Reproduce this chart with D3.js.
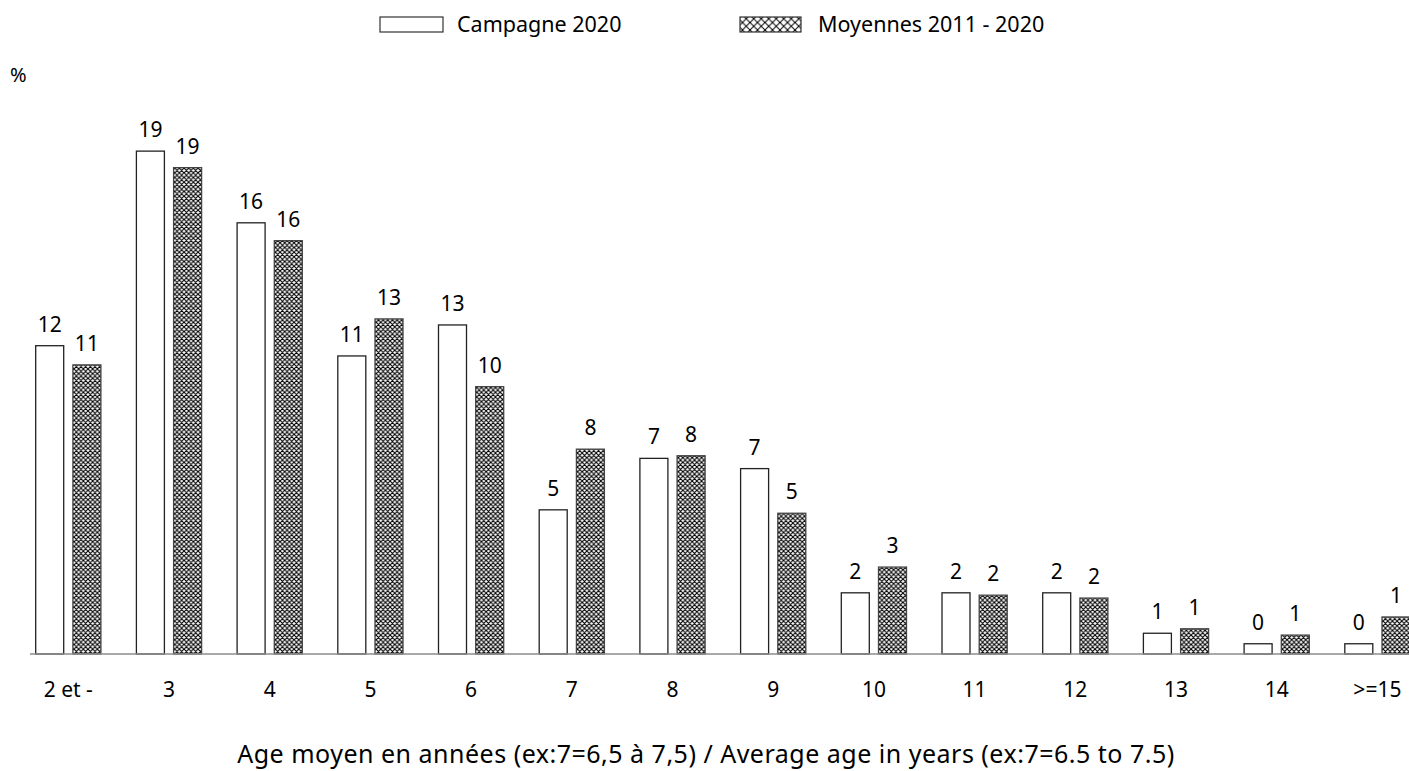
<!DOCTYPE html>
<html>
<head>
<meta charset="utf-8">
<script src="https://cdn.jsdelivr.net/npm/d3@7"></script>
<style>
  html, body { margin: 0; padding: 0; background: #fff; }
  svg { display: block; font-family: "Noto Sans", "Open Sans", sans-serif; }
</style>
</head>
<body>
<svg id="chart" width="1409" height="771"></svg>
<script>
// ---- data ----
const categories = ["2 et -", "3", "4", "5", "6", "7", "8", "9", "10", "11", "12", "13", "14", ">=15"];
const series = ["Campagne 2020", "Moyennes 2011 - 2020"];
const campagne2020 = [11.74, 19.15, 16.42, 11.35, 12.53, 5.49, 7.45, 7.06, 2.33, 2.33, 2.33, 0.79, 0.39, 0.39];
const moyennes = [11.01, 18.52, 15.74, 12.76, 10.18, 7.80, 7.55, 5.36, 3.31, 2.24, 2.13, 0.96, 0.72, 1.41];
const yUnit = "%";
const xTitle = "Age moyen en années (ex:7=6,5 à 7,5) / Average age in years (ex:7=6.5 to 7.5)";

const svg = d3.select("#chart");
const W = 1409, H = 771;
const baseY = 654;

// hatch patterns
const defs = svg.append("defs");
function hatch(id, s, sw) {
  const p = defs.append("pattern").attr("id", id)
    .attr("patternUnits", "userSpaceOnUse").attr("width", s).attr("height", s);
  p.append("rect").attr("width", s).attr("height", s).attr("fill", "#fff");
  p.append("path")
    .attr("d", `M0,0L${s},${s}M${s},0L0,${s}M${-s/2},${s/2}L${s/2},${s*1.5}M${s/2},${-s/2}L${s*1.5},${s/2}M${s/2},${s*1.5}L${s*1.5},${s/2}M${-s/2},${s/2}L${s/2},${-s/2}`)
    .attr("stroke", "#000").attr("stroke-width", sw);
}
hatch("xh", 4.67, 1.1);
hatch("xhl", 7.5, 1.0);

const step = 100.7;
const c0 = 68.3;
const x0 = d3.scaleBand().domain(categories)
  .range([c0 - step / 2, c0 - step / 2 + step * categories.length])
  .paddingInner(0).paddingOuter(0);
const x1 = d3.scaleBand().domain(series)
  .range([x0.bandwidth() / 2 - 32.6, x0.bandwidth() / 2 + 32.6])
  .paddingInner(9.2 / 37.2).paddingOuter(0);
const y = d3.scaleLinear().domain([0, 20]).range([baseY, baseY - 20 * 26.26]);

const rows = categories.map((c, i) => ({ cat: c, vals: [
  { s: series[0], v: campagne2020[i] },
  { s: series[1], v: moyennes[i] }
]}));

const g = svg.append("g");
const grp = g.selectAll("g.grp").data(rows).join("g")
  .attr("transform", d => `translate(${x0(d.cat)},0)`);

grp.selectAll("rect").data(d => d.vals).join("rect")
  .attr("x", d => x1(d.s))
  .attr("width", x1.bandwidth())
  .attr("y", d => y(d.v))
  .attr("height", d => baseY - y(d.v))
  .attr("fill", d => d.s === series[0] ? "#fff" : "url(#xh)")
  .attr("stroke", d => d.s === series[0] ? "#222" : "#444")
  .attr("stroke-width", 1.3);

grp.selectAll("text").data(d => d.vals).join("text")
  .attr("x", d => x1(d.s) + x1.bandwidth() / 2)
  .attr("y", d => y(d.v) - 14)
  .attr("text-anchor", "middle")
  .attr("font-size", 21)
  .attr("fill", "#000")
  .text(d => Math.round(d.v));

// axis
const xAxis = d3.axisBottom(x0).tickSize(0).tickPadding(0);
const ax = svg.append("g").attr("transform", `translate(0,${baseY})`).call(xAxis);
ax.select(".domain").remove();
ax.selectAll("text").attr("font-size", 21).attr("fill", "#000")
  .attr("dy", null).attr("y", 43)
  .attr("font-family", "\"Noto Sans\", \"Open Sans\", sans-serif");
svg.append("line").attr("x1", 30).attr("x2", W).attr("y1", baseY).attr("y2", baseY)
  .attr("stroke", "#8c8c8c").attr("stroke-width", 1.5);

// y unit
svg.append("text").attr("x", 10).attr("y", 82).attr("font-size", 20).text(yUnit);

// x title
svg.append("text").attr("x", 706).attr("y", 763).attr("text-anchor", "middle")
  .attr("font-size", 25).attr("letter-spacing", 0.5).text(xTitle);

// legend
const leg = [
  { s: series[0], bx: 380, bw: 63, tx: 457 },
  { s: series[1], bx: 740, bw: 61, tx: 818 }
];
leg.forEach(l => {
  svg.append("rect").attr("x", l.bx).attr("y", 17).attr("width", l.bw).attr("height", 15)
    .attr("fill", l.s === series[0] ? "#fff" : "url(#xhl)")
    .attr("stroke", "#333").attr("stroke-width", 1.2);
  svg.append("text").attr("x", l.tx).attr("y", 32).attr("font-size", 21.5).text(l.s);
});
</script>
</body>
</html>
